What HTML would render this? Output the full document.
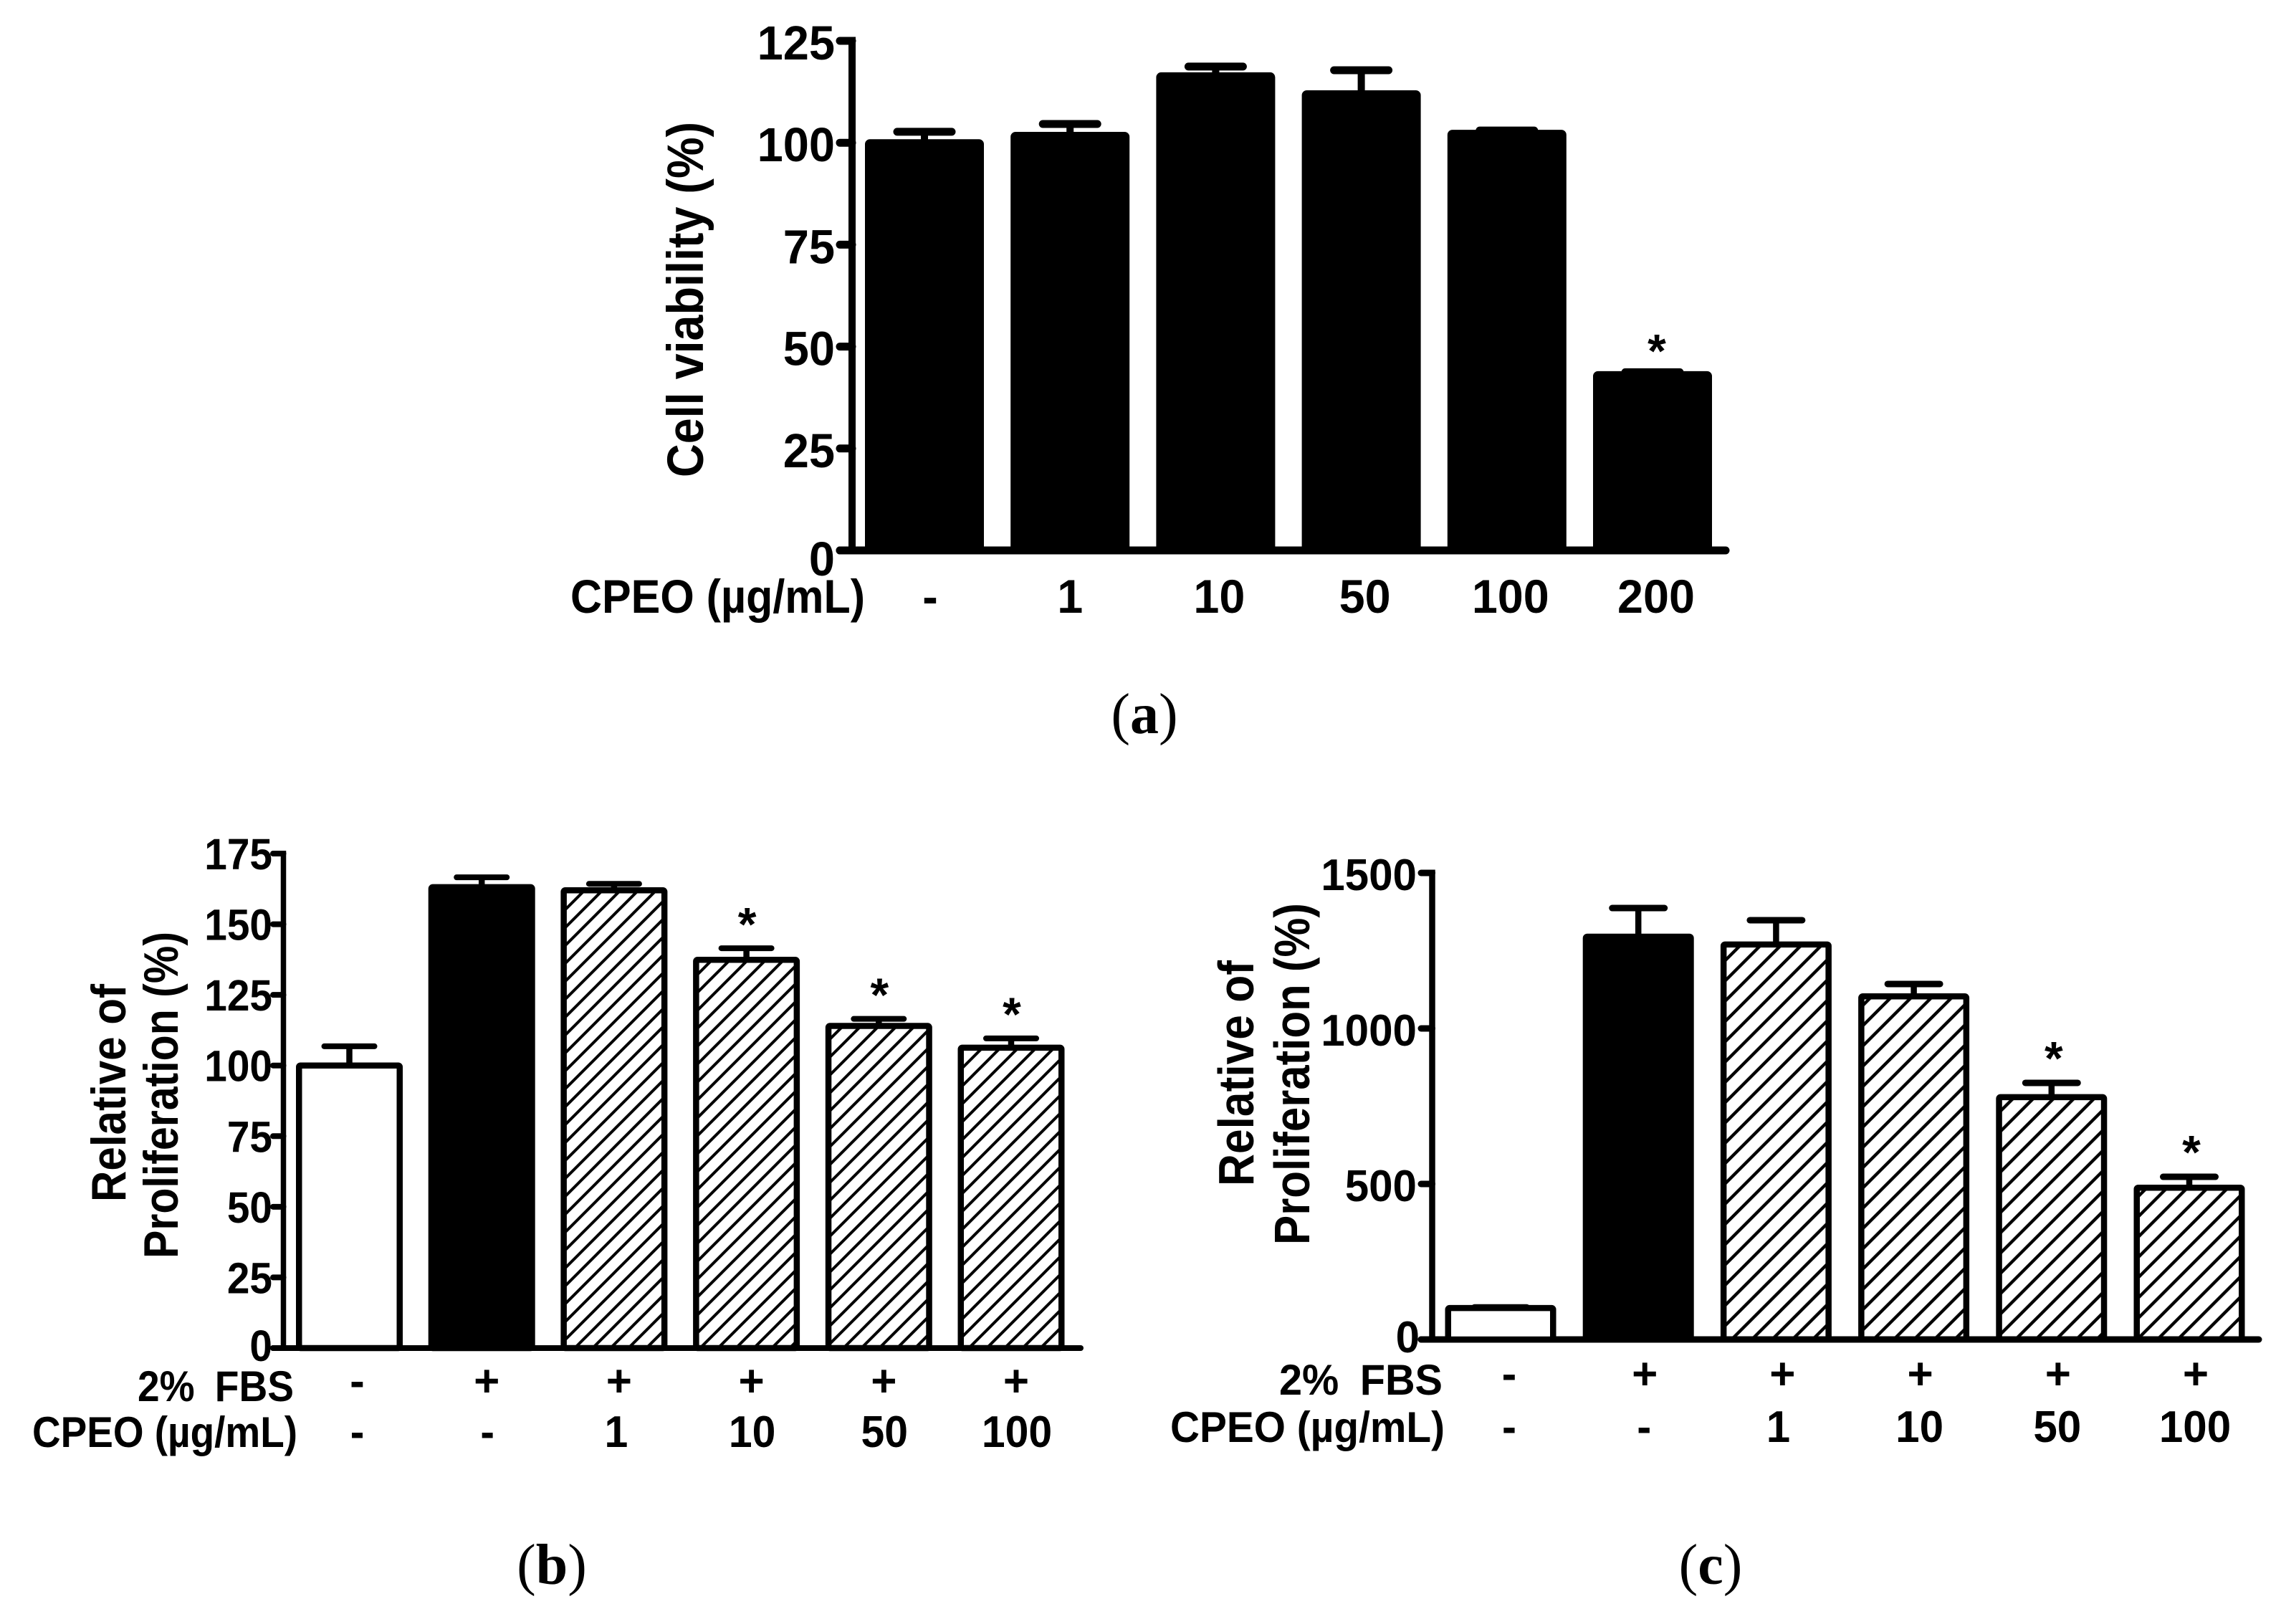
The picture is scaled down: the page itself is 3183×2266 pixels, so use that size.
<!DOCTYPE html>
<html lang="en">
<head>
<meta charset="utf-8">
<title>Cell viability and proliferation bar charts</title>
<style>
  html, body { margin: 0; padding: 0; background: #fff; }
  svg { display: block; }
  text { font-family: "Liberation Sans", sans-serif; font-weight: bold; fill: #000; }
  .panel-tag { font-family: "Liberation Serif", serif; font-weight: normal; font-size: 80px; }
  .panel-tag tspan { font-weight: bold; }
</style>
</head>
<body>
<svg id="figure" xmlns="http://www.w3.org/2000/svg" width="3183" height="2266" viewBox="0 0 3183 2266">
  <defs>
    <pattern id="hatch-b" width="25" height="25" patternUnits="userSpaceOnUse" patternTransform="translate(8,0)">
      <path d="M-5,5 L5,-5 M-5,30 L30,-5 M20,30 L30,20" stroke="#000" stroke-width="4" fill="none"/>
    </pattern>
    <pattern id="hatch-c" width="28.3" height="28.3" patternUnits="userSpaceOnUse" patternTransform="translate(12,0)">
      <path d="M-5,5 L5,-5 M-5,33.3 L33.3,-5 M23.3,33.3 L33.3,23.3" stroke="#000" stroke-width="4.4" fill="none"/>
    </pattern>
  </defs>
  <rect width="3183" height="2266" fill="#fff"/>

  <g id="panel-a">
    <text transform="translate(981,666) rotate(-90)" font-size="71" textLength="496" lengthAdjust="spacingAndGlyphs">Cell viability (%)</text>
    <text x="796" y="855" font-size="66" textLength="411" lengthAdjust="spacingAndGlyphs">CPEO (µg/mL)</text>
    <text class="panel-tag" x="1597" y="1023" text-anchor="middle">(<tspan>a</tspan>)</text>
  </g>

  <g id="panel-b">
    <text transform="translate(175,1677) rotate(-90)" font-size="68" textLength="304" lengthAdjust="spacingAndGlyphs">Relative of</text>
    <text transform="translate(248,1756) rotate(-90)" font-size="68" textLength="456" lengthAdjust="spacingAndGlyphs">Proliferation (%)</text>
    <text x="192" y="1955" font-size="60" word-spacing="14" textLength="218" lengthAdjust="spacingAndGlyphs">2% FBS</text>
    <text x="45" y="2019" font-size="60" textLength="370" lengthAdjust="spacingAndGlyphs">CPEO (µg/mL)</text>
    <text class="panel-tag" x="770" y="2210" text-anchor="middle">(<tspan>b</tspan>)</text>
  </g>

  <g id="panel-c">
    <text transform="translate(1749,1655) rotate(-90)" font-size="70" textLength="315" lengthAdjust="spacingAndGlyphs">Relative of</text>
    <text transform="translate(1827,1737) rotate(-90)" font-size="70" textLength="477" lengthAdjust="spacingAndGlyphs">Proliferation (%)</text>
    <text x="1785" y="1946" font-size="60" word-spacing="14" textLength="228" lengthAdjust="spacingAndGlyphs">2% FBS</text>
    <text x="1633" y="2012" font-size="60" textLength="383" lengthAdjust="spacingAndGlyphs">CPEO (µg/mL)</text>
    <text class="panel-tag" x="2387" y="2210" text-anchor="middle">(<tspan>c</tspan>)</text>
  </g>
</svg>
<script>
// Panel (a) data
const aTicks = [0, 25, 50, 75, 100, 125];
const aCpeo = ['-', '1', '10', '50', '100', '200'];
const aValues = [100, 101.8, 116.4, 112, 102.3, 43.1];
const aErrorTops = [102.7, 104.6, 118.7, 117.8, 103, 43.7];
const aSignificant = [false, false, false, false, false, true];

// Panel (b) data
const bTicks = [0, 25, 50, 75, 100, 125, 150, 175];
const bFbs = ['-', '+', '+', '+', '+', '+'];
const bCpeo = ['-', '-', '1', '10', '50', '100'];
const bValues = [100, 163.1, 162, 137.4, 114, 106.3];
const bErrorTops = [106.8, 166.6, 164.3, 141.5, 116.5, 109.6];
const bSignificant = [false, false, false, true, true, true];

// Panel (c) data
const cTicks = [0, 500, 1000, 1500];
const cFbs = ['-', '+', '+', '+', '+', '+'];
const cCpeo = ['-', '-', '1', '10', '50', '100'];
const cValues = [101, 1295, 1270, 1103, 779, 488];
const cErrorTops = [103, 1387, 1348, 1143, 825, 523];
const cSignificant = [false, false, false, false, true, true];

const SVG_NS = 'http://www.w3.org/2000/svg';

function make(tag, attrs, parent) {
  const el = document.createElementNS(SVG_NS, tag);
  for (const k in attrs) el.setAttribute(k, attrs[k]);
  parent.appendChild(el);
  return el;
}

function makeLabel(content, attrs, parent, squeeze) {
  const t = make('text', attrs, parent);
  t.textContent = content;
  if (squeeze && squeeze !== 1) {
    t.setAttribute('textLength', (t.getComputedTextLength() * squeeze).toFixed(1));
    t.setAttribute('lengthAdjust', 'spacingAndGlyphs');
  }
  return t;
}

function drawPanel(cfg) {
  const root = document.getElementById(cfg.id);
  const maxTick = cfg.ticks[cfg.ticks.length - 1];
  const yScale = v => cfg.base - (v / maxTick) * (cfg.base - cfg.top);
  const xScale = i => cfg.firstCenter + i * cfg.step;

  // Axes
  const yAxis = make('line', { x1: cfg.axisX, x2: cfg.axisX, y1: yScale(maxTick) - cfg.hStroke / 2, y2: cfg.base, stroke: '#000', 'stroke-width': cfg.vStroke }, root);
  
  

  const xAxis = make('line', { x1: cfg.tickLeft, x2: cfg.right, y1: cfg.base, y2: cfg.base, stroke: '#000', 'stroke-width': cfg.hStroke, 'stroke-linecap': 'round' }, root);
  
  

  cfg.ticks.forEach(tick => {
    const y = yScale(tick);
    const mark = make('line', { x1: cfg.tickLeft, x2: cfg.axisX, y1: y, y2: y, stroke: '#000', 'stroke-width': cfg.hStroke, 'stroke-linecap': 'round' }, root);
    
    

    const isZero = tick === 0;
    const label = makeLabel(String(tick), {
      x: isZero ? cfg.tickLabelEnd + cfg.zeroShift : cfg.tickLabelEnd,
      y: y + (isZero ? cfg.zeroDrop : cfg.tickDrop),
      'text-anchor': 'end',
      'font-size': cfg.tickFont
    }, root, cfg.tickSqueeze);
    
    
  });

  // Bars, error bars, significance stars
  cfg.values.forEach((value, i) => {
    const cx = xScale(i);
    const yTop = yScale(value);
    const yErr = yScale(cfg.errorTops[i]);

    const stem = make('line', { x1: cx, x2: cx, y1: yTop, y2: yErr, stroke: '#000', 'stroke-width': cfg.stemStroke }, root);
    
    

    const cap = make('line', { x1: cx - cfg.capHalf, x2: cx + cfg.capHalf, y1: yErr, y2: yErr, stroke: '#000', 'stroke-width': cfg.capStroke, 'stroke-linecap': 'round' }, root);
    
    

    let fill = '#000';
    if (cfg.fbs) {
      if (cfg.fbs[i] === '-') fill = '#fff';
      else if (cfg.cpeo[i] === '-') fill = '#000';
      else fill = 'url(#' + cfg.hatchId + ')';
    }
    const bar = make('rect', {
      x: cx - cfg.barWidth / 2 + cfg.barStroke / 2,
      y: yTop,
      width: cfg.barWidth - cfg.barStroke,
      height: cfg.base - yTop,
      rx: 2,
      fill: fill,
      stroke: '#000',
      'stroke-width': cfg.barStroke
    }, root);
    
    

    if (cfg.significant[i]) {
      const star = makeLabel('*', {
        x: cx + cfg.starShift,
        y: yErr - cfg.starGap + cfg.starFont * 0.55,
        'text-anchor': 'middle',
        'font-size': cfg.starFont,
        style: 'font-weight:bold'
      }, root);
      
      
    }

    if (cfg.fbs) {
      const plus = makeLabel(cfg.fbs[i], {
        x: cx + (cfg.fbs[i] === '-' ? cfg.rowDashShift : cfg.rowPlusShift),
        y: cfg.fbsBaseline,
        'text-anchor': 'middle',
        'font-size': cfg.rowFont
      }, root);
      
      
    }

    const doseShift = cfg.cpeo[i] === '-' && i === 0 ? cfg.rowDashShift : (cfg.cpeo[i] === '1' ? cfg.cpeoShift - 5 : cfg.cpeoShift);
    const dose = makeLabel(cfg.cpeo[i], {
      x: cx + doseShift,
      y: cfg.cpeoBaseline,
      'text-anchor': 'middle',
      'font-size': cfg.rowFont
    }, root, cfg.rowSqueeze);
    
    
  });
}

drawPanel({
  id: 'panel-a', ticks: aTicks, values: aValues, errorTops: aErrorTops, significant: aSignificant,
  cpeo: aCpeo, fbs: null,
  axisX: 1189, top: 57, base: 768, tickLeft: 1172, right: 2408,
  vStroke: 10, hStroke: 11,
  firstCenter: 1290, step: 203.2, barWidth: 166, barStroke: 10,
  stemStroke: 10, capStroke: 11, capHalf: 38,
  tickFont: 67, tickSqueeze: 0.97, tickLabelEnd: 1165, tickDrop: 26, zeroDrop: 35, zeroShift: 0,
  starFont: 66, starGap: 43, starShift: 6,
  rowFont: 66, rowSqueeze: 0.98, cpeoBaseline: 855, cpeoShift: 5, rowDashShift: 8
});

drawPanel({
  id: 'panel-b', ticks: bTicks, values: bValues, errorTops: bErrorTops, significant: bSignificant,
  cpeo: bCpeo, fbs: bFbs, hatchId: 'hatch-b',
  axisX: 395.5, top: 1191, base: 1881, tickLeft: 381, right: 1508,
  vStroke: 7.5, hStroke: 8,
  firstCenter: 487.5, step: 184.7, barWidth: 149, barStroke: 8.5,
  stemStroke: 8.5, capStroke: 8, capHalf: 35,
  tickFont: 61, tickSqueeze: 0.93, tickLabelEnd: 380, tickDrop: 22, zeroDrop: 18, zeroShift: 0,
  starFont: 66, starGap: 47, starShift: 1,
  rowFont: 62, rowSqueeze: 0.95, fbsBaseline: 1948, cpeoBaseline: 2019, cpeoShift: 8, rowDashShift: 11, rowPlusShift: 7
});

drawPanel({
  id: 'panel-c', ticks: cTicks, values: cValues, errorTops: cErrorTops, significant: cSignificant,
  cpeo: cCpeo, fbs: cFbs, hatchId: 'hatch-c',
  axisX: 1998.5, top: 1218, base: 1869, tickLeft: 1983, right: 3152,
  vStroke: 8.5, hStroke: 9,
  firstCenter: 2094, step: 192.2, barWidth: 155, barStroke: 8.5,
  stemStroke: 8.5, capStroke: 9, capHalf: 36.5,
  tickFont: 62, tickSqueeze: 0.97, tickLabelEnd: 1977, tickDrop: 24, zeroDrop: 18, zeroShift: 4,
  starFont: 66, starGap: 48, starShift: 3,
  rowFont: 62, rowSqueeze: 0.97, fbsBaseline: 1938, cpeoBaseline: 2012, cpeoShift: 8, rowDashShift: 12, rowPlusShift: 9
});
</script>
</body>
</html>
